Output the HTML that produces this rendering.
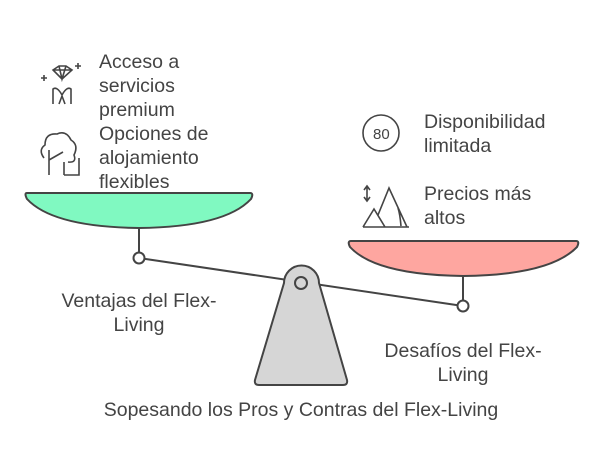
<!DOCTYPE html>
<html><head><style>
body{margin:0;width:602px;height:470px;background:#fff;overflow:hidden}
svg{position:absolute;left:0;top:0}
text{font-family:"Liberation Sans",sans-serif;font-size:19.5px;fill:#444}
</style></head><body>
<svg width="602" height="470" viewBox="0 0 602 470">
<line x1="139" y1="258" x2="463" y2="306" stroke="#444" stroke-width="2"/>
<path d="M284 283 A17 17 0 0 1 319 283 L347 380 Q348 385 343 385 L259 385 Q254 385 255 380 Z" fill="#d6d6d6" stroke="#444" stroke-width="2"/>
<circle cx="301" cy="283" r="6" fill="#d6d6d6" stroke="#444" stroke-width="2"/>
<path d="M27 193 L250 193 Q254 193 251 199 Q225 227 139 228 Q53 227 27 199 Q24 193 27 193 Z" fill="#80f9c1" stroke="#444" stroke-width="2"/>
<line x1="139" y1="228" x2="139" y2="253" stroke="#444" stroke-width="2"/>
<circle cx="139" cy="258" r="5.5" fill="#fff" stroke="#444" stroke-width="2"/>
<path d="M351 241 L576 241 Q580 241 577 247 Q550 275 463 276 Q376 275 350 247 Q347 241 351 241 Z" fill="#fea6a0" stroke="#444" stroke-width="2"/>
<line x1="463" y1="276" x2="463" y2="301" stroke="#444" stroke-width="2"/>
<circle cx="463" cy="306" r="5.5" fill="#fff" stroke="#444" stroke-width="2"/>
<g fill="none" stroke="#444" stroke-width="1.6">
<path d="M53 70 L59 66 L66 66 L72 70 L62 79 Z M53 70 L72 70 M59 66 L62 79 L66 66"/>
<path d="M41 78 h6 M44 75 v6 M75 66 h6 M78 63 v6"/>
<path d="M53 104 V89 Q57 86 62 95 Q67 86 71 89 V104 M59 104 L62 96 L65 104"/>
<path d="M49 175 V150 M49 160 L63 152 M44 158 Q38 150 45 145 Q45 133 57 134 Q66 130 71 140 Q79 145 74 155 Q77 163 68 162 M64 175 V162 M64 175 H79 V158"/>
<circle cx="381" cy="133" r="18"/>
<path d="M367 187 V200 M364 190 L367 186 L370 190 M364 197 L367 201 L370 197"/>
<path d="M363 227 L374 209 L385 227 M378 215 L389 188 L407 227 M363 227 H409 M398 208 Q400 214 401 226"/>
</g>
<text x="373" y="139" style="font-size:15px">80</text>
<text x="99" y="68">Acceso a</text>
<text x="99" y="92">servicios</text>
<text x="99" y="116">premium</text>
<text x="99" y="140">Opciones de</text>
<text x="99" y="164">alojamiento</text>
<text x="99" y="188">flexibles</text>
<text x="424" y="128">Disponibilidad</text>
<text x="424" y="152">limitada</text>
<text x="424" y="200">Precios más</text>
<text x="424" y="224">altos</text>
<text x="139" y="307" text-anchor="middle">Ventajas del Flex-</text>
<text x="139" y="331" text-anchor="middle">Living</text>
<text x="463" y="357" text-anchor="middle">Desafíos del Flex-</text>
<text x="463" y="381" text-anchor="middle">Living</text>
<text x="301" y="416" text-anchor="middle">Sopesando los Pros y Contras del Flex-Living</text>
</svg>
</body></html>
